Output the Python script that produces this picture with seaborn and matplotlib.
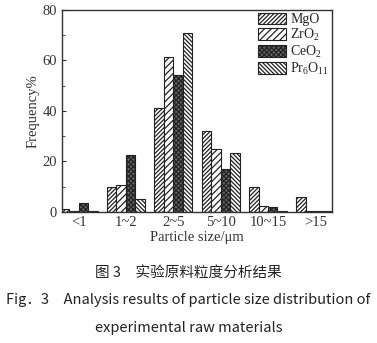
import matplotlib
matplotlib.use("Agg")
import matplotlib.pyplot as plt
from matplotlib.patches import Patch
import seaborn as sns
import pandas as pd

categories = ["<1", "1~2", "2~5", "5~10", "10~15", ">15"]
materials = ["MgO", "ZrO$_2$", "CeO$_2$", "Pr$_6$O$_{11}$"]
mgo = [1.3, 10.0, 41.0, 32.2, 9.8, 5.8]
zro2 = [0.5, 10.8, 61.4, 25.0, 2.3, 0.4]
ceo2 = [3.7, 22.4, 54.4, 17.1, 2.0, 0.3]
pr6o11 = [0.3, 5.1, 71.0, 23.5, 0.5, 0.3]
yticks = [0, 20, 40, 60, 80]

series = [mgo, zro2, ceo2, pr6o11]
rows = []
for m, vals in zip(materials, series):
    for c, v in zip(categories, vals):
        rows.append({"size": c, "material": m, "freq": v})
df = pd.DataFrame(rows)

sns.set_style("ticks")
plt.rcParams["font.family"] = ["Liberation Serif", "DejaVu Serif"]
plt.rcParams["mathtext.fontset"] = "custom"
plt.rcParams["mathtext.rm"] = "Liberation Serif"
plt.rcParams["mathtext.it"] = "Liberation Serif:italic"
plt.rcParams["hatch.linewidth"] = 0.9

fig = plt.figure(figsize=(3.77, 3.43), dpi=100)
ax = fig.add_axes([0.1645, 0.382, 0.716, 0.589])

faces = ["white", "white", "#666666", "white"]
sns.barplot(data=df, x="size", y="freq", hue="material", order=categories,
            hue_order=materials, palette=faces, edgecolor="#222222",
            linewidth=0.8, width=0.8, ax=ax, legend=False, saturation=1)

hatches = ["////////", "/////", "xxxxxxx", "\\\\\\\\\\\\\\\\"]
for cont, h, fc in zip(ax.containers, hatches, faces):
    for bar in cont:
        bar.set_hatch(h)
        bar.set_facecolor(fc)

ax.set_xlim(-0.35, 5.35)
ax.set_ylim(0, 80)
ax.set_yticks(yticks)
ax.set_yticks([10, 30, 50, 70], minor=True)
ax.tick_params(axis="y", which="both", direction="in", labelsize=10.5, length=3, colors="#333333")
ax.tick_params(axis="y", which="minor", length=2)
ax.tick_params(axis="x", direction="in", length=0, labelsize=10.5, colors="#333333", pad=3)
for s in ax.spines.values():
    s.set_color("#333333")
    s.set_linewidth(1.0)
ax.set_xlabel("Particle size/μm", fontsize=10.5, color="#333333", labelpad=1)
ax.set_ylabel("Frequency%", fontsize=10.5, color="#333333", labelpad=2)

handles = [Patch(facecolor=fc, edgecolor="#222222", hatch=h, linewidth=0.8, label=m)
           for h, m, fc in zip(hatches, materials, faces)]
ax.legend(handles=handles, loc="upper right", frameon=False, fontsize=10,
          handlelength=2.0, handleheight=0.9, handletextpad=0.3, labelspacing=0.05,
          borderaxespad=0.1, borderpad=0.1)

cjk = ["Noto Sans CJK SC", "DejaVu Sans"]
fig.text(0.5, 0.205, "图 3　实验原料粒度分析结果", ha="center", va="center",
         fontsize=10.5, family=cjk, color="#222222")
fig.text(0.5, 0.125, "Fig．3　Analysis results of particle size distribution of",
         ha="center", va="center", fontsize=10.5, family=cjk, color="#222222")
fig.text(0.5, 0.045, "experimental raw materials", ha="center", va="center",
         fontsize=10.5, family=cjk, color="#222222")

fig.savefig("out.png", dpi=100, facecolor="white")
